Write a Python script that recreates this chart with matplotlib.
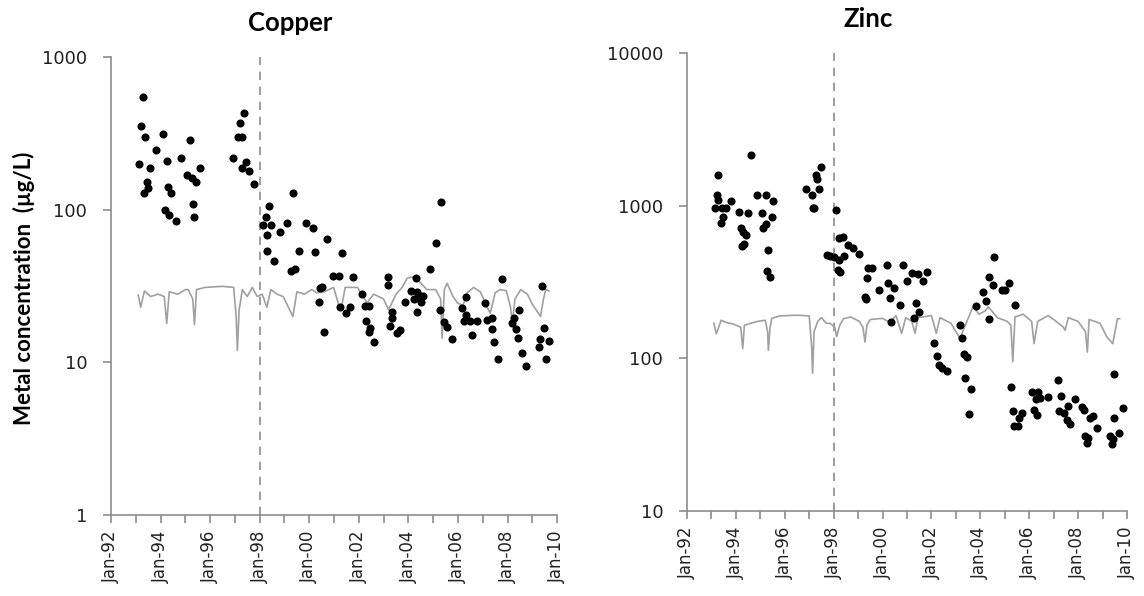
import matplotlib
matplotlib.use("Agg")
import matplotlib.pyplot as plt
from matplotlib.ticker import FixedLocator, FuncFormatter, NullLocator

# copper samples (decimal year, ug/L)
cu_year = [1993.28, 1993.21, 1993.37, 1993.14, 1993.59, 1993.80, 1994.10, 1994.25, 1993.47, 1993.51,
           1993.35, 1994.32, 1994.42, 1994.19, 1994.34, 1994.63, 1994.84, 1995.19, 1995.08, 1995.26,
           1995.43, 1995.58, 1995.30, 1995.37, 1996.92, 1997.21, 1997.35, 1997.14, 1997.28, 1997.44,
           1997.28, 1997.58, 1997.79, 1998.38, 1998.24, 1998.15, 1998.46, 1998.30, 1998.30, 1998.59,
           1998.83, 1999.12, 1999.34, 1999.27, 1999.43, 1999.57, 1999.87, 2000.16, 2000.24, 2000.73,
           2000.44, 2000.38, 2000.58, 2001.32, 2000.96, 2001.19, 2001.76, 2000.51, 2001.25, 2001.49,
           2001.66, 2002.13, 2002.26, 2002.40, 2002.30, 2002.44, 2002.40, 2002.60, 2003.19, 2003.19,
           2003.34, 2003.34, 2003.25, 2003.54, 2003.65, 2003.85, 2004.11, 2004.35, 2004.32, 2004.24,
           2004.45, 2004.59, 2004.51, 2004.35, 2004.89, 2005.10, 2005.32, 2005.29, 2005.45, 2005.54,
           2005.76, 2006.33, 2006.17, 2006.33, 2006.23, 2006.48, 2006.78, 2006.57, 2007.11, 2007.18,
           2007.38, 2007.38, 2007.44, 2007.62, 2007.76, 2008.16, 2008.26, 2008.46, 2008.36, 2008.43,
           2008.57, 2008.73, 2009.37, 2009.47, 2009.31, 2009.27, 2009.67, 2009.54]
cu_conc = [550, 355, 300, 200, 188, 248, 316, 210, 151, 139,
           128, 141, 128, 100, 93, 85, 217, 286, 170, 161,
           151, 188, 109, 90, 217, 368, 432, 300, 300, 205,
           188, 179, 147, 106, 90, 80, 80, 68, 54, 46,
           72, 82, 128, 40, 41, 54, 82, 76, 53, 64,
           30.5, 25, 15.8, 52, 37, 37, 36, 31, 23, 21,
           23, 28, 23.4, 23.4, 18.7, 16.7, 15.7, 13.5, 36.4, 32,
           21.5, 19.4, 17.3, 15.5, 16.3, 25, 29.5, 28.8, 35.6, 26,
           27.4, 27.4, 24.7, 21.3, 41, 61, 112, 22, 18.5, 17.1,
           14.2, 27, 22.6, 20.4, 18.7, 18.7, 18.7, 15.1, 24.4, 19,
           19.5, 16.6, 13.5, 10.5, 35.2, 18.2, 19.5, 22, 16.6, 14.5,
           11.6, 9.4, 31.6, 16.7, 14.2, 12.7, 13.8, 10.5]

# copper guideline (grey line)
cu_line_year = [1993.1, 1993.2, 1993.35, 1993.6, 1993.9, 1994.15, 1994.25, 1994.35, 1994.7, 1995.0,
                1995.12, 1995.3, 1995.37, 1995.45, 1995.8, 1996.5, 1996.95, 1997.05, 1997.1, 1997.17,
                1997.3, 1997.5, 1997.7, 1997.9, 1998.1, 1998.29, 1998.45, 1998.7, 1998.95, 1999.34,
                1999.5, 1999.8, 2000.1, 2000.3, 2000.6, 2000.98, 2001.19, 2001.3, 2001.45, 2001.95,
                2002.1, 2002.33, 2002.6, 2003.0, 2003.2, 2003.5, 2003.75, 2003.95, 2004.28, 2004.5,
                2004.75, 2005.1, 2005.3, 2005.36, 2005.45, 2005.56, 2005.8, 2005.97, 2006.2, 2006.37,
                2006.63, 2006.9, 2007.18, 2007.3, 2007.5, 2007.7, 2007.95, 2008.12, 2008.19, 2008.3,
                2008.53, 2008.8, 2009.0, 2009.33, 2009.45, 2009.54, 2009.67]
cu_line_val = [27.6, 23, 29.4, 27, 28, 27, 18, 29, 28, 30,
               30, 26, 17.7, 30, 31, 31.5, 31, 20, 12, 22,
               30, 27, 31, 27, 28, 23, 30, 28, 27, 20,
               29, 28, 30, 28.6, 29, 31, 23.8, 23, 31, 31,
               28, 24.6, 28, 26, 22, 28, 31, 35.6, 36.6, 33,
               30, 30, 26, 14.4, 30, 33, 27, 24.6, 23.5, 28.6,
               31, 29, 23, 21, 28.6, 30, 29.5, 23, 18, 26,
               30, 28, 24, 20, 26, 30, 29.4]

# zinc samples (decimal year, ug/L)
zn_year = [1993.28, 1993.21, 1993.28, 1993.15, 1993.42, 1993.60, 1993.79, 1993.46, 1993.38, 1994.12,
           1994.48, 1994.20, 1994.30, 1994.40, 1994.24, 1994.33, 1994.62, 1994.85, 1995.23, 1995.53,
           1995.07, 1995.47, 1995.22, 1995.12, 1995.33, 1995.29, 1995.40, 1996.87, 1997.10, 1997.27,
           1997.33, 1997.47, 1997.40, 1997.14, 1997.18, 1997.74, 1998.10, 1998.03, 1998.20, 1998.19,
           1998.23, 1998.37, 1998.60, 1998.80, 1999.05, 1997.85, 1998.44, 1998.26, 1999.42, 1999.56,
           1999.38, 1999.28, 1999.31, 1999.87, 2000.20, 2000.24, 2000.48, 2000.31, 2000.71, 2000.35,
           2000.85, 2000.99, 2001.19, 2001.46, 2001.67, 2001.83, 2001.37, 2001.50, 2001.28, 2002.10,
           2002.22, 2002.31, 2002.42, 2002.63, 2003.17, 2003.26, 2003.35, 2003.45, 2003.38, 2003.62,
           2003.55, 2003.82, 2004.12, 2004.23, 2004.37, 2004.36, 2004.51, 2004.57, 2004.88, 2005.01,
           2005.19, 2005.42, 2005.26, 2005.33, 2005.70, 2005.60, 2005.39, 2005.56, 2006.10, 2006.37,
           2006.28, 2006.44, 2006.78, 2006.21, 2006.31, 2007.17, 2007.31, 2007.22, 2007.42, 2007.58,
           2007.54, 2007.65, 2007.88, 2008.17, 2008.24, 2008.49, 2008.62, 2008.76, 2008.28, 2008.42,
           2008.38, 2009.31, 2009.42, 2009.38, 2009.47, 2009.47, 2009.68, 2009.83]
zn_conc = [1592, 1178, 1091, 963, 963, 963, 1079, 849, 775, 914,
           893, 711, 676, 643, 547, 562, 2153, 1178, 1178, 1079,
           893, 849, 757, 711, 513, 373, 340, 1283, 1178, 1592,
           1493, 1786, 1283, 973, 973, 475, 938, 463, 441, 380,
           617, 621, 553, 531, 483, 468, 468, 370, 389, 389,
           338, 253, 244, 280, 409, 314, 290, 250, 224, 174,
           409, 321, 364, 360, 321, 370, 232, 201, 183, 127,
           103.5, 90, 86, 83, 165, 136, 107, 102, 74, 63,
           43, 220, 271, 238, 180, 340, 304, 459, 280, 280,
           313, 224, 65, 45, 44, 41, 36, 36, 60, 60,
           54, 55, 56, 46, 42.5, 72, 57, 45, 44, 49,
           39.5, 37, 54, 48, 46, 41, 42, 35, 31, 30,
           28, 31, 29.5, 27.4, 79, 41, 32.5, 47]

# zinc guideline (grey line)
zn_line_year = [1993.1, 1993.2, 1993.4, 1993.6, 1993.9, 1994.2, 1994.28, 1994.35, 1994.6, 1994.9,
                1995.2, 1995.3, 1995.33, 1995.4, 1995.47, 1995.8, 1996.5, 1997.0, 1997.1, 1997.14,
                1997.2, 1997.35, 1997.5, 1997.7, 1997.85, 1998.05, 1998.12, 1998.25, 1998.4, 1998.7,
                1999.05, 1999.2, 1999.28, 1999.36, 1999.5, 2000.0, 2000.3, 2000.55, 2000.78, 2000.95,
                2001.2, 2001.33, 2001.45, 2002.0, 2002.2, 2002.35, 2002.8, 2003.17, 2003.35, 2003.7,
                2003.95, 2004.2, 2004.33, 2004.7, 2005.1, 2005.25, 2005.33, 2005.42, 2005.75, 2006.1,
                2006.2, 2006.35, 2006.78, 2007.1, 2007.4, 2007.47, 2007.6, 2008.0, 2008.3, 2008.38,
                2008.45, 2008.9, 2009.17, 2009.42, 2009.61, 2009.7]
zn_line_val = [170, 145, 178, 172, 168, 160, 116, 165, 170, 175,
               178, 150, 113, 160, 183, 190, 192, 190, 120, 80,
               150, 175, 185, 170, 170, 160, 139, 165, 182, 187,
               175, 160, 128, 165, 180, 183, 172, 191, 146, 185,
               175, 146, 185, 191, 146, 185, 170, 135, 160, 218,
               195, 205, 218, 185, 175, 165, 95, 187, 195, 175,
               125, 175, 191, 175, 160, 153, 185, 175, 150, 110,
               180, 170, 139, 125, 182, 182]

year_ticks = list(range(1992, 2011))
change_year = 1998

axis_grey = "#8c8c8c"


def style(ax, ylim, yticks):
    ax.set_yscale("log")
    ax.set_ylim(*ylim)
    ax.set_xlim(1992, 2010)
    ax.yaxis.set_major_locator(FixedLocator(yticks))
    ax.yaxis.set_minor_locator(NullLocator())
    ax.yaxis.set_major_formatter(FuncFormatter(lambda v, p: f"{v:g}"))
    ax.xaxis.set_major_locator(FixedLocator(year_ticks))
    ax.xaxis.set_major_formatter(
        FuncFormatter(lambda v, p: f"Jan-{int(round(v)) % 100:02d}" if int(round(v)) % 2 == 0 else ""))
    for s in ["top", "right"]:
        ax.spines[s].set_visible(False)
    for s in ["left", "bottom"]:
        ax.spines[s].set_color(axis_grey)
        ax.spines[s].set_linewidth(1.2)
    ax.tick_params(axis="y", length=6, width=1.2, color=axis_grey, pad=11, labelsize=13, labelcolor="#222222")
    ax.tick_params(axis="x", length=6, width=1.2, color=axis_grey, pad=5, labelsize=12,
                   labelcolor="#222222", labelrotation=90)
    ax.axvline(change_year, color="#8c8c8c", linestyle=(0, (5, 4)), linewidth=1.2, zorder=1)


fig = plt.figure(figsize=(11.44, 5.96), dpi=100)
ax1 = fig.add_axes([0.097, 0.136, 0.390, 0.768])
ax2 = fig.add_axes([0.6005, 0.1426, 0.3846, 0.768])

ax1.plot(cu_line_year, cu_line_val, color="#a0a0a0", linewidth=1.2, zorder=2)
ax1.scatter(cu_year, cu_conc, s=34, color="black", zorder=3, linewidths=0)
style(ax1, (1, 1000), [1, 10, 100, 1000])

ax2.plot(zn_line_year, zn_line_val, color="#a0a0a0", linewidth=1.2, zorder=2)
ax2.scatter(zn_year, zn_conc, s=34, color="black", zorder=3, linewidths=0)
style(ax2, (10, 10000), [10, 100, 1000, 10000])

fig.text(290 / 1144, 1 - 23 / 596, "Copper", ha="center", va="center", fontsize=18.5, fontweight="bold", family="Lato")
fig.text(868 / 1144, 1 - 19 / 596, "Zinc", ha="center", va="center", fontsize=18.5, fontweight="bold", family="Lato")
fig.text(24 / 1144, 1 - 288 / 596, "Metal concentration  (µg/L)", rotation=90, ha="center", va="center",
         fontsize=16, fontweight="bold", family="Lato")

plt.savefig("out.png", dpi=100)
